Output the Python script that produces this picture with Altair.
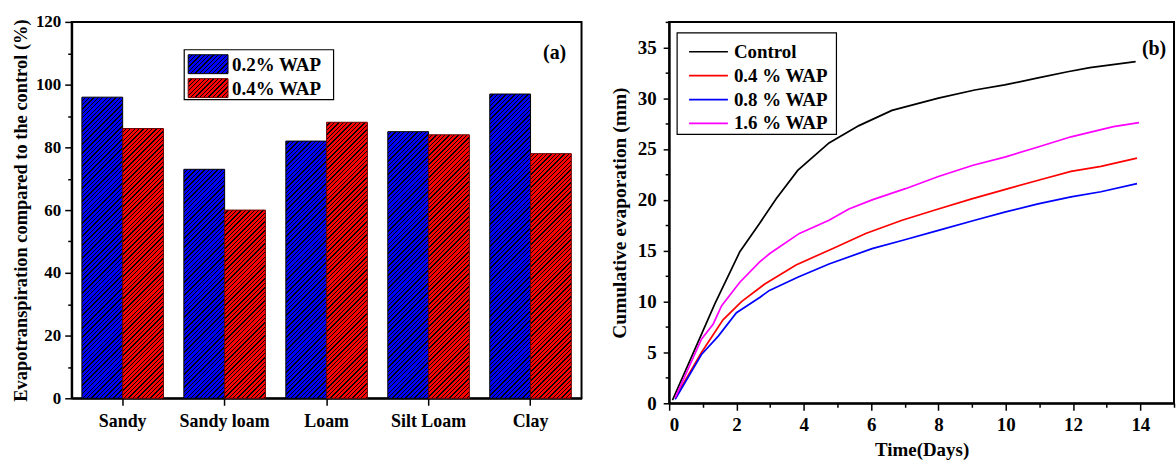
import altair as alt
import pandas as pd

# ---------------- data: panel (a) ----------------
soils = ["Sandy", "Sandy loam", "Loam", "Silt Loam", "Clay"]
bar_series = ["0.2% WAP", "0.4% WAP"]
wap02 = [96, 73, 82, 85, 97]
wap04 = [86, 60, 88, 84, 78]

# ---------------- data: panel (b) ----------------
line_series = ["Control", "0.4 % WAP", "0.8 % WAP", "1.6 % WAP"]
control_day = [0.1, 1.36, 2.1, 2.69, 3.18, 3.82, 4.75, 5.64, 6.62, 8.0, 9.08, 9.97, 10.96, 11.84, 12.5, 13.86]
control_val = [0.3, 9.8, 14.9, 17.7, 20.1, 22.9, 25.6, 27.3, 28.8, 30.0, 30.8, 31.3, 32.0, 32.6, 33.0, 33.6]
wap04_day = [0.18, 0.96, 1.6, 2.15, 2.83, 3.77, 4.85, 5.84, 6.92, 7.9, 8.99, 10.07, 11.05, 11.94, 12.83, 13.9]
wap04_val = [0.56, 5.0, 8.2, 10.0, 11.7, 13.6, 15.2, 16.7, 18.0, 19.0, 20.1, 21.1, 22.0, 22.8, 23.3, 24.1]
wap08_day = [0.18, 0.96, 1.46, 2.0, 2.69, 2.98, 3.82, 4.75, 6.03, 6.92, 8.0, 9.08, 9.97, 10.96, 11.94, 12.83, 13.9]
wap08_val = [0.4, 4.8, 6.6, 8.9, 10.4, 11.1, 12.4, 13.7, 15.2, 16.0, 17.0, 18.0, 18.8, 19.6, 20.3, 20.8, 21.6]
wap16_day = [0.18, 0.96, 1.31, 1.56, 2.1, 2.69, 2.98, 3.87, 4.75, 5.34, 6.03, 7.02, 8.0, 9.03, 9.97, 10.96, 11.94, 13.2, 13.96]
wap16_val = [0.56, 6.3, 7.8, 9.6, 11.9, 13.9, 14.7, 16.7, 18.0, 19.1, 20.0, 21.1, 22.3, 23.4, 24.2, 25.2, 26.2, 27.2, 27.6]

FONT = "Liberation Serif"
BLUE, RED = "#0000ff", "#ff0000"
line_colors = ["#000000", "#ff0000", "#0000ff", "#ff00ff"]

# layout
A_W, A_H = 512, 378
B_W, B_H = 507, 383
A_YMAX = 120
PAD_IN, PAD_OUT = 0.2, 0.1


def hatch(base, w, h, pitch=4.4, frac=0.3, ink="#000000"):
    """Diagonal '/' hatch as a striped linear gradient for a w x h box."""
    k = (w + h) / (w * w + h * h)
    T = pitch / (w + h)
    stops = []
    i = 0
    while True:
        s = i * T
        if s > 1:
            break
        a = s + T * (1 - frac)
        e = s + T
        for off, col in ((s, base), (a, base), (a, ink), (e, ink)):
            if off <= 1:
                stops.append({"offset": round(off, 6), "color": col})
        i += 1
    return alt.LinearGradient(gradient="linear", stops=stops,
                              x1=0, y1=0, x2=w * k, y2=h * k)


# ---------------- panel (a) ----------------
bars = pd.DataFrame({
    "soil": soils * 2,
    "series": [bar_series[0]] * 5 + [bar_series[1]] * 5,
    "value": wap02 + wap04,
})

step = A_W / (len(soils) - PAD_IN + 2 * PAD_OUT)
bar_w = step * (1 - PAD_IN) / 2
conds = []
for _, r in bars.iterrows():
    h = r["value"] / A_YMAX * A_H
    base = BLUE if r["series"] == bar_series[0] else RED
    conds.append({
        "test": f"datum.soil === '{r['soil']}' && datum.series === '{r['series']}'",
        "value": hatch(base, bar_w, h).to_dict(),
    })

bar_layer = alt.Chart(bars).mark_bar(strokeWidth=1).encode(
    x=alt.X("soil:N", sort=soils,
            scale=alt.Scale(paddingInner=PAD_IN, paddingOuter=PAD_OUT),
            axis=alt.Axis(title=None, labelAngle=0, labelFontSize=18, tickSize=7,
                          labelPadding=7)),
    xOffset=alt.XOffset("series:N", sort=bar_series,
                        scale=alt.Scale(paddingInner=0, paddingOuter=0)),
    y=alt.Y("value:Q", scale=alt.Scale(domain=[0, A_YMAX]),
            axis=alt.Axis(title="Evapotranspiration compared to the control (%)",
                          values=list(range(0, 121, 10)),
                          labelExpr="datum.value % 20 === 0 ? datum.label : ''",
                          tickSize={"condition": {"test": "datum.value % 20 === 0", "value": 7}, "value": 4},
                          labelFontSize=17, titleFontSize=18.5, labelPadding=4,
                          titlePadding=5)),
    fill={"condition": conds, "value": BLUE},
    stroke={"condition": {"test": f"datum.series === '{bar_series[1]}'", "value": "#6a0000"},
            "value": "#000000"},
)

one = alt.Data(values=[{}])


def box(x, x2, y, y2, fill="white", stroke="black", sw=1.2):
    return alt.Chart(one).mark_rect(fill=fill, stroke=stroke, strokeWidth=sw).encode(
        x=alt.value(x), x2=alt.value(x2), y=alt.value(y), y2=alt.value(y2))


def label(x, y, txt, size=19, align="left"):
    return alt.Chart(one).mark_text(font=FONT, fontWeight="bold", fontSize=size,
                                    align=align, baseline="middle", color="black").encode(
        x=alt.value(x), y=alt.value(y), text=alt.value(txt))


leg_a = [box(113, 263, 28, 78)]
for i, (name, col) in enumerate(zip(bar_series, [BLUE, RED])):
    y0 = 33 + i * 24
    leg_a.append(box(117, 157, y0, y0 + 19, fill=hatch(col, 40, 19),
                     stroke="black" if i == 0 else "#6a0000", sw=1))
    leg_a.append(label(161, y0 + 10, name))
leg_a.append(label(485, 31, "(a)", size=20, align="center"))

panel_a = alt.layer(bar_layer, *leg_a).properties(width=A_W, height=A_H)

# ---------------- panel (b) ----------------
rows = []
for name, d, v in zip(line_series,
                      [control_day, wap04_day, wap08_day, wap16_day],
                      [control_val, wap04_val, wap08_val, wap16_val]):
    for dd, vv in zip(d, v):
        rows.append({"series": name, "day": dd, "value": vv})
lines = pd.DataFrame(rows)

line_layer = alt.Chart(lines).mark_line(strokeWidth=1.7).encode(
    x=alt.X("day:Q", scale=alt.Scale(domain=[0, 15], nice=False),
            axis=alt.Axis(title="Time(Days)", values=list(range(0, 16)),
                          labelExpr="datum.value % 2 === 0 && datum.value < 15 ? datum.label : ''",
                          tickSize={"condition": {"test": "datum.value % 2 === 0", "value": 7}, "value": 4},
                          labelFontSize=19, titleFontSize=19, labelPadding=5, titlePadding=6)),
    y=alt.Y("value:Q", scale=alt.Scale(domain=[0, 37.5], nice=False),
            axis=alt.Axis(title="Cumulative evaporation (mm)",
                          values=[i * 2.5 for i in range(16)],
                          labelExpr="datum.value % 5 === 0 ? format(datum.value, 'd') : ''",
                          tickSize={"condition": {"test": "datum.value % 5 === 0", "value": 6}, "value": 4},
                          labelFontSize=19, titleFontSize=19.5, labelPadding=7, titlePadding=8)),
    color=alt.Color("series:N", sort=line_series,
                    scale=alt.Scale(domain=line_series, range=line_colors), legend=None),
    order="day:Q",
)

leg_b = [box(8, 168, 11, 113)]
for i, (name, col) in enumerate(zip(line_series, line_colors)):
    y0 = 30 + i * 24
    leg_b.append(alt.Chart(one).mark_rule(color=col, strokeWidth=1.7).encode(
        x=alt.value(20), x2=alt.value(59), y=alt.value(y0)))
    leg_b.append(label(65, y0, name))
leg_b.append(label(487, 27, "(b)", size=20, align="center"))

panel_b = alt.layer(line_layer, *leg_b).properties(width=B_W, height=B_H)

chart = alt.hconcat(panel_a, panel_b, spacing=26).properties(
    padding={"left": 10, "top": 11, "right": 0, "bottom": 0},
    background="white",
).configure_view(
    stroke="black", strokeWidth=2
).configure_axis(
    labelFont=FONT, titleFont=FONT, labelFontWeight="bold", titleFontWeight="bold",
    labelColor="black", titleColor="black", domainColor="black", tickColor="black",
    domainWidth=2, tickWidth=1.5, grid=False,
)

chart.save("out.html", embed_options={"renderer": "svg", "actions": False})
